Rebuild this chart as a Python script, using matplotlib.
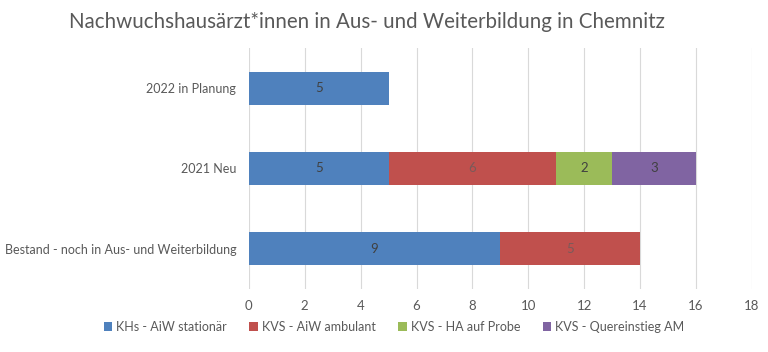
import matplotlib.pyplot as plt
import numpy as np

plt.rcParams['font.family'] = ['Lato', 'DejaVu Sans']

categories = ['Bestand - noch in Aus- und Weiterbildung', '2021 Neu', '2022 in Planung']
series = ['KHs - AiW stationär', 'KVS - AiW ambulant', 'KVS - HA auf Probe', 'KVS - Quereinstieg AM']
khs = [9, 5, 5]
kvs_amb = [5, 6, 0]
kvs_probe = [0, 2, 0]
kvs_quer = [0, 3, 0]
colors = ['#4F81BD', '#C0504D', '#9BBB59', '#8064A2']
label_colors = ['#404040', '#7a5a5a', '#404040', '#404040']

fig = plt.figure(figsize=(7.68, 3.52), dpi=100)
ax = fig.add_axes([0.324, 0.179, 0.655, 0.685])

y = np.arange(len(categories))
left = np.zeros(len(categories))
for vals, name, c, lc in zip([khs, kvs_amb, kvs_probe, kvs_quer], series, colors, label_colors):
    vals = np.array(vals, dtype=float)
    ax.barh(y, vals, left=left, height=0.41, color=c, label=name, zorder=3)
    for yi, v, l in zip(y, vals, left):
        if v > 0:
            ax.text(l + v / 2, yi, f'{int(v)}', ha='center', va='center',
                    fontsize=9.5, color=lc, zorder=4)
    left += vals

ax.set_xlim(0, 18)
ax.set_ylim(-0.5, 2.5)
ax.set_xticks(range(0, 19, 2))
ax.set_yticks(y)
ax.set_yticklabels(categories)
ax.grid(axis='x', color='#d9d9d9', linewidth=0.8, zorder=0)
for s in ax.spines.values():
    s.set_visible(False)
ax.tick_params(axis='y', length=0, labelsize=9, colors='#595959', pad=9)
ax.tick_params(axis='x', length=0, labelsize=9.5, colors='#595959', pad=8)

fig.suptitle('Nachwuchshausärzt*innen in Aus- und Weiterbildung in Chemnitz',
             fontsize=14.8, color='#595959', x=0.478, y=0.965)

fig.legend(loc='center', bbox_to_anchor=(0.513, 0.072), ncol=4, frameon=False,
           fontsize=9, labelcolor='#595959', handlelength=0.7, handleheight=0.7,
           handletextpad=0.3, columnspacing=1.8)

fig.savefig('out.png', dpi=100)
